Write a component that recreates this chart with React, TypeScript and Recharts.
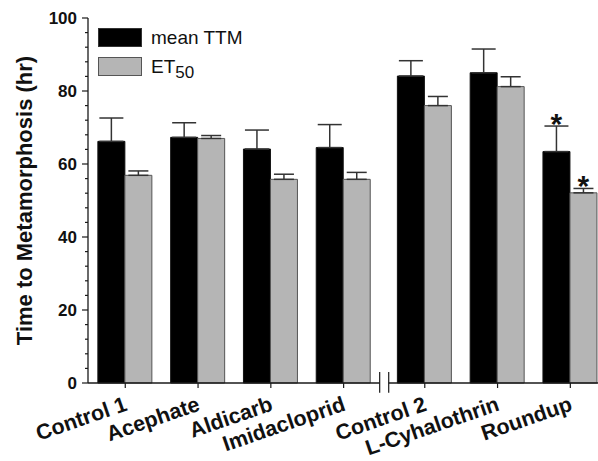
import {
  BarChart,
  Bar,
  XAxis,
  YAxis,
  ErrorBar,
  ReferenceLine,
  Legend,
} from "recharts";

const treatments = [
  "Control 1",
  "Acephate",
  "Aldicarb",
  "Imidacloprid",
  "Control 2",
  "L-Cyhalothrin",
  "Roundup",
];
const meanTTM = [66.2, 67.3, 64.1, 64.5, 84.1, 85.0, 63.4];
const meanTTMErr = [6.4, 4.0, 5.2, 6.3, 4.2, 6.5, 7.0];
const et50 = [56.9, 67.0, 55.8, 55.8, 76.0, 81.2, 52.1];
const et50Err = [1.2, 0.8, 1.4, 1.9, 2.5, 2.7, 1.2];
const ttmSignificant = [false, false, false, false, false, false, true];
const et50Significant = [false, false, false, false, false, false, true];
const yTicks = [
  0, 4, 8, 12, 16, 20, 24, 28, 32, 36, 40, 44, 48, 52, 56, 60, 64, 68, 72, 76,
  80, 84, 88, 92, 96, 100,
];

// axis break sits after the 4th treatment
const BREAK_AFTER = 3;
const BREAK_GAP = 0.115;
const positions = treatments.map((_, i) => i + (i > BREAK_AFTER ? BREAK_GAP : 0));
const X_MIN = -0.512;
const X_MAX = positions[positions.length - 1] + 0.38;
const breakX = (positions[BREAK_AFTER] + positions[BREAK_AFTER + 1]) / 2;
const BREAK_HALF = 0.062;

const data = treatments.map((name, i) => ({
  name,
  pos: positions[i],
  ttm: meanTTM[i],
  ttmErr: [0, meanTTMErr[i]],
  et50: et50[i],
  et50Err: [0, et50Err[i]],
}));

const FONT = "Arial, 'Liberation Sans', sans-serif";
const AXIS = "#1a1a1a";
const GRAY = "#b5b5b5";

function YTick({ x, y, payload }: any) {
  const major = payload.value % 20 === 0;
  return (
    <g>
      <line x1={x} x2={x - (major ? 6 : 3)} y1={y} y2={y} stroke={AXIS} strokeWidth={1.2} />
      {major && (
        <text
          x={x - 11}
          y={y}
          dy="0.36em"
          textAnchor="end"
          fontFamily={FONT}
          fontWeight="bold"
          fontSize={17}
          fill="#111"
        >
          {payload.value}
        </text>
      )}
    </g>
  );
}

function XTick({ x, y, payload }: any) {
  const i = positions.indexOf(payload.value);
  const tx = x + 3;
  const ty = y + 20;
  return (
    <text
      x={tx}
      y={ty}
      transform={`rotate(-19, ${tx}, ${ty})`}
      textAnchor="end"
      fontFamily={FONT}
      fontWeight="bold"
      fontSize={21.5}
      fill="#111"
    >
      {treatments[i]}
    </text>
  );
}

function YLabel({ viewBox }: any) {
  const cx = 24;
  const cy = viewBox.y + viewBox.height / 2;
  return (
    <text
      x={cx}
      y={cy}
      transform={`rotate(-90, ${cx}, ${cy})`}
      textAnchor="middle"
      dominantBaseline="central"
      fontFamily={FONT}
      fontWeight="bold"
      fontSize={22}
      fill="#111"
    >
      Time to Metamorphosis (hr)
    </text>
  );
}

const starLabel = (flags: boolean[], values: number[], errs: number[]) => (props: any) => {
  const { x, y, width, height, index } = props;
  if (!flags[index]) return null;
  const errPx = (height * errs[index]) / values[index];
  return (
    <text
      x={x + width / 2}
      y={y - errPx + 8}
      textAnchor="middle"
      fontFamily={FONT}
      fontWeight="bold"
      fontSize={30}
      fill="#111"
    >
      *
    </text>
  );
};

function LegendBox() {
  const row = { display: "flex", alignItems: "center", height: 19, marginBottom: 10 };
  const text = { fontFamily: FONT, fontSize: 19, color: "#111", marginLeft: 9, lineHeight: "19px" };
  return (
    <div>
      <div style={row}>
        <div style={{ width: 42, height: 17, background: "#000", border: "1px solid #333" }} />
        <span style={text}>mean TTM</span>
      </div>
      <div style={row}>
        <div style={{ width: 42, height: 17, background: GRAY, border: "1px solid #555" }} />
        <span style={text}>
          ET<span style={{ fontSize: 17, position: "relative", top: 5 }}>50</span>
        </span>
      </div>
    </div>
  );
}

export default function App() {
  return (
    <div style={{ position: "absolute", left: 0, top: 0, width: 598, height: 461, background: "#fff" }}>
      <BarChart
        width={598}
        height={461}
        data={data}
        margin={{ top: 18, right: 0, bottom: 0, left: 0 }}
        barSize={27}
        barGap={0}
      >
        <XAxis
          dataKey="pos"
          type="number"
          domain={[X_MIN, X_MAX]}
          ticks={positions}
          interval={0}
          height={78}
          axisLine={false}
          tickSize={5}
          tickMargin={2}
          tickLine={{ stroke: AXIS, strokeWidth: 1.2 }}
          tick={<XTick />}
        />
        <YAxis
          type="number"
          domain={[0, 100]}
          ticks={yTicks}
          interval={0}
          width={88}
          tickSize={0}
          tickMargin={0}
          tickLine={false}
          axisLine={{ stroke: AXIS, strokeWidth: 1.3 }}
          tick={<YTick />}
          label={<YLabel />}
        />
        <Legend
          layout="vertical"
          align="center"
          verticalAlign="middle"
          wrapperStyle={{ left: 98, top: 28, width: "auto" }}
          content={<LegendBox />}
        />
        <Bar
          dataKey="ttm"
          fill="#000"
          stroke="#111"
          strokeWidth={1}
          isAnimationActive={false}
          label={starLabel(ttmSignificant, meanTTM, meanTTMErr)}
        >
          <ErrorBar dataKey="ttmErr" width={12} stroke="#333" strokeWidth={1.5} direction="y" />
        </Bar>
        <Bar
          dataKey="et50"
          fill={GRAY}
          stroke="#555"
          strokeWidth={1}
          isAnimationActive={false}
          label={starLabel(et50Significant, et50, et50Err)}
        >
          <ErrorBar dataKey="et50Err" width={10} stroke="#333" strokeWidth={1.5} direction="y" />
        </Bar>
        <ReferenceLine
          segment={[{ x: X_MIN, y: 0 }, { x: breakX - BREAK_HALF, y: 0 }]}
          stroke={AXIS}
          strokeWidth={1.3}
          ifOverflow="visible"
        />
        <ReferenceLine
          segment={[{ x: breakX + BREAK_HALF, y: 0 }, { x: X_MAX, y: 0 }]}
          stroke={AXIS}
          strokeWidth={1.3}
          ifOverflow="visible"
        />
        <ReferenceLine
          segment={[{ x: breakX - BREAK_HALF, y: 3 }, { x: breakX - BREAK_HALF, y: -2.7 }]}
          stroke={AXIS}
          strokeWidth={1.2}
          ifOverflow="visible"
        />
        <ReferenceLine
          segment={[{ x: breakX + BREAK_HALF, y: 3 }, { x: breakX + BREAK_HALF, y: -2.7 }]}
          stroke={AXIS}
          strokeWidth={1.2}
          ifOverflow="visible"
        />
      </BarChart>
    </div>
  );
}
